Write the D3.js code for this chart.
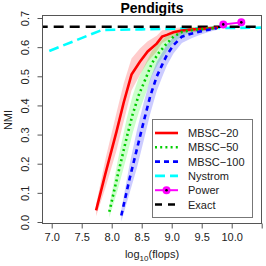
<!DOCTYPE html>
<html>
<head>
<meta charset="utf-8">
<script src="https://cdn.jsdelivr.net/npm/d3@7"></script>
<style>
  body { margin: 0; background: #fff; }
  svg { font-family: "Liberation Sans", Arial, sans-serif; }
</style>
</head>
<body>
<svg id="chart" width="266" height="266"></svg>
<script>
// data (x = log10 flops, y = NMI, lo/hi = shaded band)
var mbsc20X  = [7.74, 7.9, 8.08, 8.2, 8.33, 8.47, 8.6, 8.75, 8.84, 8.92, 9.03, 9.17, 9.3, 9.47, 9.6, 9.77];
var mbsc20Y  = [0.04, 0.17, 0.31, 0.41, 0.506, 0.55, 0.585, 0.612, 0.636, 0.642, 0.651, 0.657, 0.66, 0.662, 0.664, 0.667];
var mbsc20Lo = [0.02, 0.12, 0.245, 0.345, 0.451, 0.505, 0.55, 0.585, 0.614, 0.624, 0.637, 0.646, 0.651, 0.654, 0.657, 0.661];
var mbsc20Hi = [0.06, 0.22, 0.375, 0.475, 0.561, 0.595, 0.62, 0.639, 0.658, 0.66, 0.665, 0.668, 0.669, 0.670, 0.671, 0.673];

var mbsc50X  = [7.96, 8.1, 8.25, 8.35, 8.45, 8.59, 8.67, 8.78, 8.92, 9.03, 9.17, 9.3, 9.47, 9.6, 9.72];
var mbsc50Y  = [0.035, 0.16, 0.29, 0.37, 0.435, 0.504, 0.545, 0.579, 0.613, 0.636, 0.652, 0.658, 0.661, 0.664, 0.666];
var mbsc50Lo = [0.015, 0.11, 0.225, 0.305, 0.375, 0.454, 0.503, 0.545, 0.587, 0.616, 0.638, 0.648, 0.653, 0.657, 0.660];
var mbsc50Hi = [0.055, 0.21, 0.355, 0.435, 0.495, 0.554, 0.587, 0.613, 0.639, 0.656, 0.666, 0.668, 0.669, 0.671, 0.672];

var mbsc100X  = [8.16, 8.3, 8.42, 8.54, 8.64, 8.75, 8.84, 8.92, 9.03, 9.17, 9.34, 9.5, 9.62, 9.75];
var mbsc100Y  = [0.022, 0.15, 0.25, 0.35, 0.43, 0.499, 0.539, 0.573, 0.607, 0.636, 0.647, 0.655, 0.66, 0.665];
var mbsc100Lo = [0.002, 0.10, 0.185, 0.285, 0.37, 0.449, 0.497, 0.537, 0.578, 0.614, 0.631, 0.644, 0.652, 0.659];
var mbsc100Hi = [0.042, 0.20, 0.315, 0.415, 0.49, 0.549, 0.581, 0.609, 0.636, 0.658, 0.663, 0.666, 0.668, 0.671];

var nystromX = [6.96, 7.4, 7.84, 8.5, 9.0, 9.5, 10.0, 10.5];
var nystromY = [0.587, 0.623, 0.659, 0.661, 0.663, 0.665, 0.666, 0.667];

var powerX = [9.86, 10.16];
var powerY = [0.678, 0.685];

var exactY = 0.670;

var xTicks = [7.0, 7.5, 8.0, 8.5, 9.0, 9.5, 10.0, 10.5];
var xTickLabels = ["7.0", "7.5", "8.0", "8.5", "9.0", "9.5", "10.0", ""];
var yTicks = [0, 0.1, 0.2, 0.3, 0.4, 0.5, 0.6, 0.7];

var legendNames = ["MBSC\u221220", "MBSC\u221250", "MBSC\u2212100", "Nystrom", "Power", "Exact"];

var svg = d3.select("#chart");

var box = {left: 42, right: 262, top: 15, bottom: 223};

var x = d3.scaleLinear().domain([7, 10]).range([51.7, 231.7]);
var y = d3.scaleLinear().domain([0, 0.7]).range([222, 18]);

svg.append("clipPath").attr("id", "clip")
  .append("rect")
    .attr("x", box.left).attr("y", box.top)
    .attr("width", box.right - box.left).attr("height", box.bottom - box.top);

var plot = svg.append("g").attr("clip-path", "url(#clip)");

function zip(xs, ys) {
  return xs.map(function(v, i) { return [v, ys[i]]; });
}

var line = d3.line().x(function(d) { return x(d[0]); }).y(function(d) { return y(d[1]); });
var band = d3.area()
  .x(function(d) { return x(d[0]); })
  .y0(function(d) { return y(d[1]); })
  .y1(function(d) { return y(d[2]); });

function bandData(xs, lo, hi) {
  return xs.map(function(v, i) { return [v, lo[i], hi[i]]; });
}

// shaded bands
plot.append("path").attr("d", band(bandData(mbsc20X, mbsc20Lo, mbsc20Hi)))
  .attr("fill", "rgba(255,0,0,0.2)");
plot.append("path").attr("d", band(bandData(mbsc50X, mbsc50Lo, mbsc50Hi)))
  .attr("fill", "rgba(0,255,0,0.2)");
plot.append("path").attr("d", band(bandData(mbsc100X, mbsc100Lo, mbsc100Hi)))
  .attr("fill", "rgba(0,0,255,0.2)");

var styles = {
  mbsc20:  {stroke: "#ff0000", dash: null,    w: 2.6},
  mbsc50:  {stroke: "#00cd00", dash: "2,3.2", w: 2.6},
  mbsc100: {stroke: "#0000ff", dash: "5,4",   w: 2.6},
  nystrom: {stroke: "#00ffff", dash: "10,5",  w: 2.6},
  power:   {stroke: "#ff00ff", dash: null,    w: 2},
  exact:   {stroke: "#000000", dash: "10,6",  w: 2.6}
};

function drawLine(data, s) {
  plot.append("path").attr("d", line(data))
    .attr("fill", "none")
    .attr("stroke", s.stroke)
    .attr("stroke-width", s.w)
    .attr("stroke-dasharray", s.dash);
}

drawLine(zip(nystromX, nystromY), styles.nystrom);
drawLine([[6.5, exactY], [11, exactY]], styles.exact);
drawLine(zip(mbsc20X, mbsc20Y), styles.mbsc20);
drawLine(zip(mbsc50X, mbsc50Y), styles.mbsc50);
drawLine(zip(mbsc100X, mbsc100Y), styles.mbsc100);
drawLine(zip(powerX, powerY), styles.power);

var pts = zip(powerX, powerY);
plot.selectAll(".pw").data(pts).enter().append("circle")
  .attr("cx", function(d) { return x(d[0]); })
  .attr("cy", function(d) { return y(d[1]); })
  .attr("r", 4).attr("fill", "#ff00ff");
plot.selectAll(".pwd").data(pts).enter().append("circle")
  .attr("cx", function(d) { return x(d[0]); })
  .attr("cy", function(d) { return y(d[1]); })
  .attr("r", 1.3).attr("fill", "#000");

// frame
svg.append("rect")
  .attr("x", box.left + 0.5).attr("y", box.top + 0.5)
  .attr("width", box.right - box.left - 1).attr("height", box.bottom - box.top)
  .attr("fill", "none").attr("stroke", "#555").attr("stroke-width", 1);

// axes
var xAxis = svg.append("g")
  .attr("transform", "translate(0," + (box.bottom + 0.5) + ")")
  .call(d3.axisBottom(x).tickValues(xTicks)
    .tickFormat(function(d, i) { return xTickLabels[i]; })
    .tickSize(5).tickPadding(5));
xAxis.select(".domain").remove();
xAxis.selectAll("line").attr("stroke", "#555");
xAxis.selectAll("text").attr("font-size", 11).attr("fill", "#222")
  .attr("font-family", "Liberation Sans, Arial, sans-serif");

var yAxis = svg.append("g")
  .attr("transform", "translate(" + (box.left + 0.5) + ",0)")
  .call(d3.axisLeft(y).tickValues(yTicks).tickFormat(d3.format(".1f")).tickSize(5));
yAxis.select(".domain").remove();
yAxis.selectAll("line").attr("stroke", "#555");
yAxis.selectAll("text")
  .attr("font-size", 11).attr("fill", "#222")
  .attr("font-family", "Liberation Sans, Arial, sans-serif")
  .attr("text-anchor", "middle")
  .attr("dy", null)
  .attr("x", null)
  .attr("transform", "translate(-10,0) rotate(-90)")
  .attr("y", -4);

// title and axis labels
svg.append("text").attr("x", 152).attr("y", 12.5)
  .attr("text-anchor", "middle").attr("font-size", 14).attr("font-weight", "bold")
  .text("Pendigits");

var xl = svg.append("text").attr("x", 152).attr("y", 258)
  .attr("text-anchor", "middle").attr("font-size", 11).attr("fill", "#222");
xl.append("tspan").text("log");
xl.append("tspan").attr("font-size", 8).attr("dy", 2.5).text("10");
xl.append("tspan").attr("dy", -2.5).text("(flops)");

svg.append("text")
  .attr("transform", "translate(12,120) rotate(-90)")
  .attr("text-anchor", "middle").attr("font-size", 11).attr("fill", "#222")
  .text("NMI");

// legend
var lg = svg.append("g");
lg.append("rect").attr("x", 152.5).attr("y", 119.5).attr("width", 100).attr("height", 98)
  .attr("fill", "#fff").attr("stroke", "#777");
var legendStyles = [styles.mbsc20, styles.mbsc50, styles.mbsc100, styles.nystrom, styles.power, styles.exact];
var ly = d3.scaleLinear().domain([0, 5]).range([133, 204.5]);
legendNames.forEach(function(name, i) {
  var s = legendStyles[i];
  var yy = ly(i);
  lg.append("line").attr("x1", 155).attr("x2", 178).attr("y1", yy).attr("y2", yy)
    .attr("stroke", s.stroke).attr("stroke-width", s.w)
    .attr("stroke-dasharray", s.dash ? (i == 5 ? "7,6" : s.dash) : null);
  if (name == "Power") {
    lg.append("circle").attr("cx", 166.5).attr("cy", yy).attr("r", 4).attr("fill", "#ff00ff");
    lg.append("circle").attr("cx", 166.5).attr("cy", yy).attr("r", 1.3).attr("fill", "#000");
  }
  lg.append("text").attr("x", 188).attr("y", yy + 4)
    .attr("font-size", 11).attr("fill", "#222").text(name);
});
</script>
</body>
</html>
